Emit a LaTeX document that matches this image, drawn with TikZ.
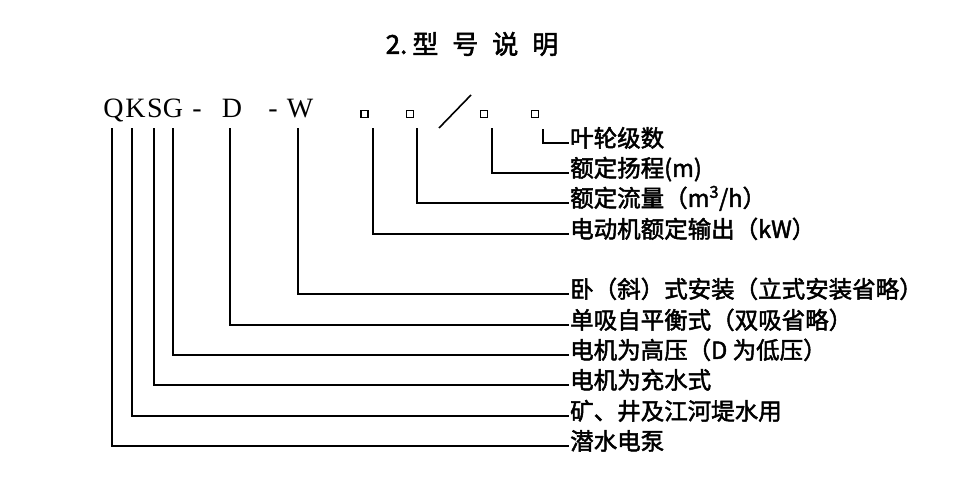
\documentclass[tikz,border=0pt]{standalone}
\usepackage{fontspec}
\newfontfamily\cjk[FakeBold=2]{Noto Sans CJK SC}
\newfontfamily\serifl{Liberation Serif}
\begin{document}
\begin{tikzpicture}[x=1pt,y=-1pt,
  conn/.style={line width=1.7pt,line cap=rect},
  letter/.style={inner sep=0pt,anchor=base,font=\serifl\fontsize{28}{28}\selectfont},
  lbl/.style={inner sep=0pt,anchor=west,text height=0.88em,text depth=0.12em,font=\cjk\fontsize{23.5}{23.5}\selectfont},
  sq/.style={draw,line width=1.1pt,minimum size=7pt,inner sep=0pt}]
\useasboundingbox (0,0) rectangle (956,494);
% title
\node[inner sep=0pt,font=\cjk\fontsize{26}{26}\selectfont] (title) at (472,44) {2.\hspace{5pt}型\hspace{14pt}号\hspace{14pt}说\hspace{14pt}明};
% model letters
\node[letter] (Q) at (113.5,117.7) {Q};
\node[letter] (K) at (135.5,117.7) {K};
\node[letter] (S) at (155,117.7) {S};
\node[letter] (G) at (173,117.7) {G};
\node[letter] (h1) at (197,117.7) {-};
\node[letter] (D) at (232,117.7) {D};
\node[letter] (h2) at (273,117.7) {-};
\node[letter] (W) at (300,117.7) {W};
\node[sq] (s1) at (364.5,114) {};
\node[sq] (s2) at (410,114) {};
\node[sq] (s3) at (484,114) {};
\node[sq] (s4) at (535,114) {};
\draw[line width=1.6pt] (439,128) -- (471,95);
% labels
\node[lbl] (l4) at (570,143) {叶轮级数};
\node[lbl] (l3) at (570,173) {额定扬程(m)};
\node[lbl] (l2) at (570,203) {额定流量（m\textsuperscript{3}/h）};
\node[lbl] (l1) at (570,234) {电动机额定输出（kW）};
\node[lbl] (lW) at (570,294) {卧（斜）式安装（立式安装省略）};
\node[lbl] (lD) at (570,325) {单吸自平衡式（双吸省略）};
\node[lbl] (lG) at (570,355) {电机为高压（D 为低压）};
\node[lbl] (lS) at (570,385) {电机为充水式};
\node[lbl] (lK) at (570,416) {矿、井及江河堤水用};
\node[lbl] (lQ) at (570,446) {潜水电泵};
% line tops
\coordinate (tQ) at (112,129);
\coordinate (tK) at (132,129);
\coordinate (tS) at (154,129);
\coordinate (tG) at (173,129);
\coordinate (tD) at (230,129);
\coordinate (tW) at (298,129);
\coordinate (t1) at (373,129);
\coordinate (t2) at (417,129);
\coordinate (t3) at (492,129);
\coordinate (t4) at (543,130);
\coordinate (eQ) at (568,446);
\coordinate (eK) at (568,416);
\coordinate (eS) at (568,385);
\coordinate (eG) at (568,355);
\coordinate (eD) at (568,325);
\coordinate (eW) at (568,294);
\coordinate (e1) at (568,234);
\coordinate (e2) at (568,203);
\coordinate (e3) at (568,173);
\coordinate (e4) at (568,143);
\draw[conn] (tQ) |- (eQ);
\draw[conn] (tK) |- (eK);
\draw[conn] (tS) |- (eS);
\draw[conn] (tG) |- (eG);
\draw[conn] (tD) |- (eD);
\draw[conn] (tW) |- (eW);
\draw[conn] (t1) |- (e1);
\draw[conn] (t2) |- (e2);
\draw[conn] (t3) |- (e3);
\draw[conn] (t4) |- (e4);
\end{tikzpicture}
\end{document}
